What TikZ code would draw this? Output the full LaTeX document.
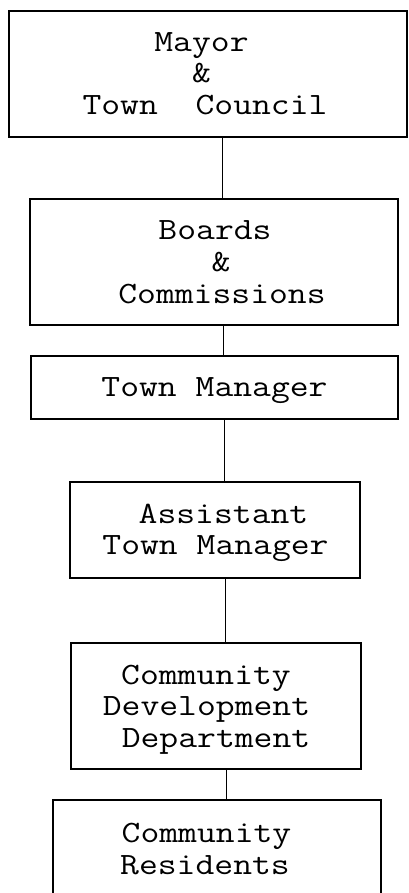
\documentclass[tikz,border=0pt]{standalone}
\usepackage{graphicx}
\newcommand\tline[1]{\scalebox{1.18}[1]{#1}}
\tikzset{
  orgbox/.style={draw=black, line width=1.3pt, rectangle, inner sep=0pt, fill=none},
  txt/.style={font=\fontsize{31}{31}\selectfont\ttfamily, anchor=base, inner sep=0pt},
  link/.style={draw=black, line width=1pt}
}
\begin{document}
\begin{tikzpicture}[x=1pt,y=-1pt]
\useasboundingbox (0,0) rectangle (408,893);
\clip (0,0) rectangle (408,893);
\fill[white] (0,0) rectangle (408,893);
% boxes
\node[orgbox, minimum width=398pt, minimum height=126pt] (b1) at (208,74) {};
\node[orgbox, minimum width=368pt, minimum height=126pt] (b2) at (214,262) {};
\node[orgbox, minimum width=367pt, minimum height=63pt] (b3) at (214.5,387.5) {};
\node[orgbox, minimum width=290pt, minimum height=96pt] (b4) at (215,530) {};
\node[orgbox, minimum width=290pt, minimum height=126pt] (b5) at (216,706) {};
\node[orgbox, minimum width=328pt, minimum height=140pt] (b6) at (217,870) {};
% texts
\node[txt] (t1a) at (201.5,51.5) {\tline{Mayor}};
\node[txt] (t1b) at (201.5,83) {\tline{\&}};
\node[txt] (t1c) at (205,114.5) {\tline{Town~~Council}};
\node[txt] (t2a) at (215,240) {\tline{Boards}};
\node[txt] (t2b) at (221,271.5) {\tline{\&}};
\node[txt] (t2c) at (222,303) {\tline{Commissions}};
\node[txt] (t3a) at (214.5,396.5) {\tline{Town Manager}};
\node[txt] (t4a) at (223.5,523) {\tline{Assistant}};
\node[txt] (t4b) at (215.5,554.5) {\tline{Town Manager}};
\node[txt] (t5a) at (206,684) {\tline{Community}};
\node[txt] (t5b) at (206.5,715.5) {\tline{Development}};
\node[txt] (t5c) at (216,747) {\tline{Department}};
\node[txt] (t6a) at (206.5,842.5) {\tline{Community}};
\node[txt] (t6b) at (205,874) {\tline{Residents}};
% connectors
\draw[link] ([xshift=14pt]b1.south) -- ([xshift=8pt]b2.north);
\draw[link] ([xshift=9pt]b2.south) -- ([xshift=8.5pt]b3.north);
\draw[link] ([xshift=9.5pt]b3.south) -- ([xshift=9pt]b4.north);
\draw[link] ([xshift=10pt]b4.south) -- ([xshift=9pt]b5.north);
\draw[link] ([xshift=10pt]b5.south) -- ([xshift=9pt]b6.north);
\end{tikzpicture}
\end{document}
